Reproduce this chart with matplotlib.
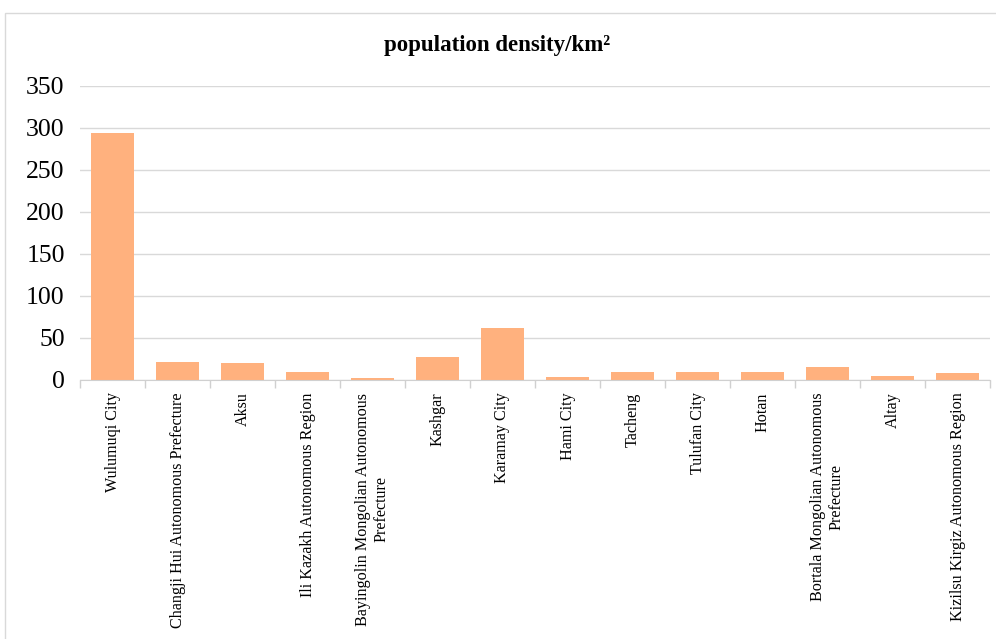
import numpy as np
import matplotlib
matplotlib.use("Agg")
import matplotlib.pyplot as plt
from matplotlib.patches import Rectangle

plt.rcParams["font.family"] = ["Liberation Serif", "DejaVu Serif"]

# Population density per region (people per km^2).
regions = [
    "Wulumuqi City",
    "Changji Hui Autonomous Prefecture",
    "Aksu",
    "Ili Kazakh Autonomous Region",
    "Bayingolin Mongolian Autonomous\nPrefecture",
    "Kashgar",
    "Karamay City",
    "Hami City",
    "Tacheng",
    "Tulufan City",
    "Hotan",
    "Bortala Mongolian Autonomous\nPrefecture",
    "Altay",
    "Kizilsu Kirgiz Autonomous Region",
]
density = [294, 21.4, 20.2, 9.9, 2.8, 27.4, 62.3, 3.6, 9.9, 9.1, 9.1, 15.1, 4.8, 7.9]
y_ticks = [0, 50, 100, 150, 200, 250, 300, 350]

W, H = 996, 639
fig = plt.figure(figsize=(W / 100, H / 100), dpi=100)

# Chart frame.
fig.patches.append(Rectangle((5 / W, -0.05), 1.1, 1 - 13 / H + 0.05,
    transform=fig.transFigure, fill=False, edgecolor="#d9d9d9",
    linewidth=1.0))

ax = fig.add_axes([80 / W, 1 - 380 / H, 910 / W, 294 / H])
x = np.arange(len(regions))
ax.bar(x, density, width=0.66, color="#ffb17e", zorder=2)

ax.set_xlim(-0.5, len(regions) - 0.5)
ax.set_ylim(0, 350)
ax.set_yticks(y_ticks)
ax.set_yticklabels([str(v) for v in y_ticks], fontsize=18.5)
ax.yaxis.grid(True, color="#d9d9d9", linewidth=1.0, zorder=0)
ax.tick_params(axis="y", length=0, pad=11)

# Tick marks between categories, labels at category centres.
ax.set_xticks(np.arange(-0.5, len(regions)))
ax.set_xticklabels([])
ax.tick_params(axis="x", which="major", length=6, color="#d0d0d0", width=1.0)
ax.set_xticks(x, minor=True)
ax.set_xticklabels(regions, minor=True, rotation=90, fontsize=11.6,
    va="top", ha="center", multialignment="center")
ax.tick_params(axis="x", which="minor", length=0, pad=9)

for side in ["top", "right", "left"]:
    ax.spines[side].set_visible(False)
ax.spines["bottom"].set_color("#d0d0d0")
ax.spines["bottom"].set_zorder(3)

fig.text(497 / W, 1 - 46 / H, "population density/km\u00b2",
    ha="center", va="center", fontsize=16.5, fontweight="bold")

fig.savefig("out.png", dpi=100)
